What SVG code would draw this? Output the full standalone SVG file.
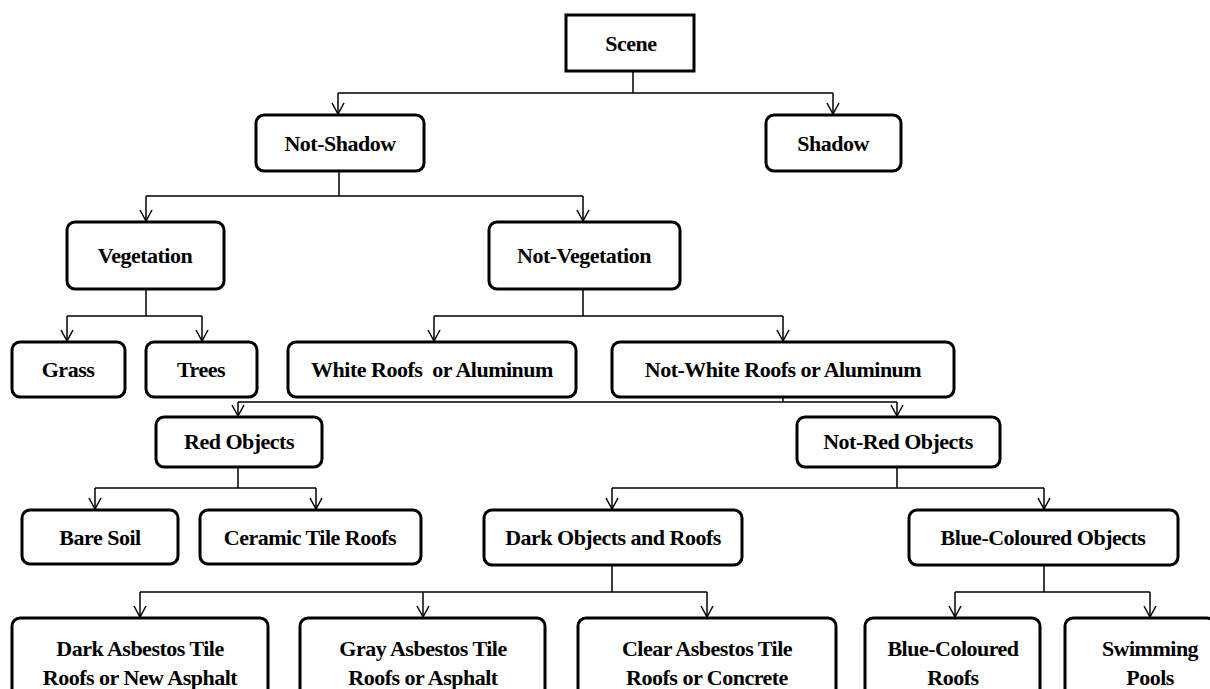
<svg xmlns="http://www.w3.org/2000/svg" width="1210" height="689" viewBox="0 0 1210 689">
<style>
.box{fill:#fff;stroke:#000;stroke-width:3}
.t{font-family:'Liberation Serif','Times New Roman','DejaVu Serif',serif;font-weight:700;font-size:22px;fill:#000;text-anchor:middle;letter-spacing:-0.5px;white-space:pre}
.c{fill:none;stroke:#000;stroke-width:1.5}
</style>
<defs>
<marker id="ah" viewBox="-12 -8 14 16" refX="0" refY="0" markerWidth="14" markerHeight="16" markerUnits="userSpaceOnUse" orient="auto">
<path d="M-11,-6 L0,0 L-11,6" fill="none" stroke="#000" stroke-width="1.5"/>
</marker>
</defs>
<rect width="1210" height="689" fill="#fff"/>
<g id="connectors">
<path class="c" d="M633,71 V93 M338,93 H833"/>
<path class="c" d="M338,93 V114" marker-end="url(#ah)"/>
<path class="c" d="M833,93 V114" marker-end="url(#ah)"/>
<path class="c" d="M339,171 V196 M146,196 H583"/>
<path class="c" d="M146,196 V221" marker-end="url(#ah)"/>
<path class="c" d="M583,196 V221" marker-end="url(#ah)"/>
<path class="c" d="M146,289 V316 M67,316 H202"/>
<path class="c" d="M67,316 V341" marker-end="url(#ah)"/>
<path class="c" d="M202,316 V341" marker-end="url(#ah)"/>
<path class="c" d="M583,289 V316 M434,316 H783"/>
<path class="c" d="M434,316 V341" marker-end="url(#ah)"/>
<path class="c" d="M783,316 V341" marker-end="url(#ah)"/>
<path class="c" d="M783,397 V402 M238,402 H897"/>
<path class="c" d="M238,402 V416" marker-end="url(#ah)"/>
<path class="c" d="M897,402 V416" marker-end="url(#ah)"/>
<path class="c" d="M238,467 V488 M95,488 H316"/>
<path class="c" d="M95,488 V509" marker-end="url(#ah)"/>
<path class="c" d="M316,488 V509" marker-end="url(#ah)"/>
<path class="c" d="M897,467 V488 M612,488 H1044"/>
<path class="c" d="M612,488 V509" marker-end="url(#ah)"/>
<path class="c" d="M1044,488 V509" marker-end="url(#ah)"/>
<path class="c" d="M612,565 V592 M140,592 H707"/>
<path class="c" d="M140,592 V617" marker-end="url(#ah)"/>
<path class="c" d="M423,592 V617" marker-end="url(#ah)"/>
<path class="c" d="M707,592 V617" marker-end="url(#ah)"/>
<path class="c" d="M1044,565 V592 M955,592 H1150"/>
<path class="c" d="M955,592 V617" marker-end="url(#ah)"/>
<path class="c" d="M1150,592 V617" marker-end="url(#ah)"/>
</g>
<g id="scene"><rect class="box" x="566" y="15" width="128" height="56"/><text class="t" x="631" y="51">Scene</text></g>
<g id="not-shadow"><rect class="box" x="256" y="115" width="168" height="56" rx="8"/><text class="t" x="340" y="151">Not-Shadow</text></g>
<g id="shadow"><rect class="box" x="766" y="115" width="135" height="56" rx="8"/><text class="t" x="833" y="151">Shadow</text></g>
<g id="vegetation"><rect class="box" x="67" y="222" width="157" height="67" rx="8"/><text class="t" x="145" y="263">Vegetation</text></g>
<g id="not-vegetation"><rect class="box" x="489" y="222" width="191" height="67" rx="8"/><text class="t" x="584" y="263">Not-Vegetation</text></g>
<g id="grass"><rect class="box" x="12" y="342" width="113" height="55" rx="8"/><text class="t" x="68" y="377">Grass</text></g>
<g id="trees"><rect class="box" x="146" y="342" width="111" height="55" rx="8"/><text class="t" x="201" y="377">Trees</text></g>
<g id="white-roofs"><rect class="box" x="288" y="342" width="288" height="55" rx="8"/><text class="t" x="432" y="377">White Roofs  or Aluminum</text></g>
<g id="not-white-roofs"><rect class="box" x="612" y="342" width="342" height="55" rx="8"/><text class="t" x="783" y="377">Not-White Roofs or Aluminum</text></g>
<g id="red-objects"><rect class="box" x="156" y="417" width="166" height="50" rx="8"/><text class="t" x="239" y="449">Red Objects</text></g>
<g id="not-red-objects"><rect class="box" x="797" y="417" width="203" height="50" rx="8"/><text class="t" x="898" y="449">Not-Red Objects</text></g>
<g id="bare-soil"><rect class="box" x="22" y="510" width="156" height="54" rx="8"/><text class="t" x="100" y="545">Bare Soil</text></g>
<g id="ceramic"><rect class="box" x="200" y="510" width="221" height="54" rx="8"/><text class="t" x="310" y="545">Ceramic Tile Roofs</text></g>
<g id="dark-objects"><rect class="box" x="484" y="510" width="258" height="55" rx="8"/><text class="t" x="613" y="545">Dark Objects and Roofs</text></g>
<g id="blue-objects"><rect class="box" x="909" y="510" width="269" height="55" rx="8"/><text class="t" x="1043" y="545">Blue-Coloured Objects</text></g>
<g id="dark-asbestos"><rect class="box" x="12" y="618" width="256" height="80" rx="8"/><text class="t" x="140" y="656">Dark Asbestos Tile</text><text class="t" x="140" y="685">Roofs or New Asphalt</text></g>
<g id="gray-asbestos"><rect class="box" x="300" y="618" width="245" height="80" rx="8"/><text class="t" x="423" y="656">Gray Asbestos Tile</text><text class="t" x="423" y="685">Roofs or Asphalt</text></g>
<g id="clear-asbestos"><rect class="box" x="578" y="618" width="258" height="80" rx="8"/><text class="t" x="707" y="656">Clear Asbestos Tile</text><text class="t" x="707" y="685">Roofs or Concrete</text></g>
<g id="blue-roofs"><rect class="box" x="865" y="618" width="175" height="80" rx="8"/><text class="t" x="953" y="656">Blue-Coloured</text><text class="t" x="953" y="685">Roofs</text></g>
<g id="pools"><rect class="box" x="1065" y="618" width="150" height="80" rx="8"/><text class="t" x="1150" y="656">Swimming</text><text class="t" x="1150" y="685">Pools</text></g>
</svg>
